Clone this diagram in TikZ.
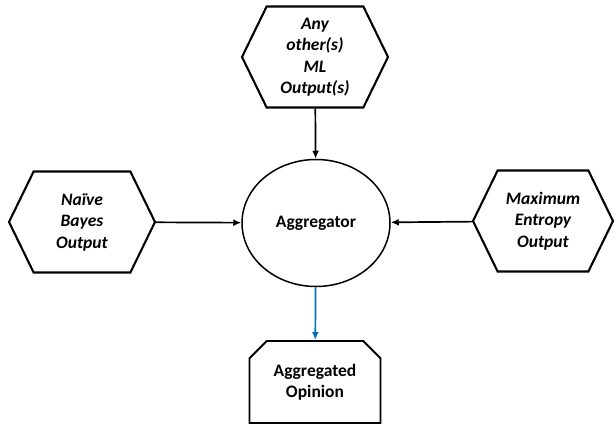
\documentclass[tikz,border=0pt]{standalone}
\usepackage{fontspec}
\setmainfont{Carlito}
\usetikzlibrary{shapes.symbols,shapes.misc,shapes.geometric,arrows.meta}
\definecolor{outblue}{RGB}{0,112,192}

\begin{document}
\begin{tikzpicture}[x=1pt, y=1pt,
  hexbox/.style={signal, signal to=west and east, signal pointer angle=128, draw, line width=2.1pt,
    minimum width=146pt, minimum height=101pt, inner sep=2pt, align=center, font=\fontsize{17.5}{21.5}\selectfont\bfseries\itshape},
  aggnode/.style={ellipse, draw, line width=1.5pt, minimum width=148pt, minimum height=127pt, font=\fontsize{17.5}{21}\selectfont\bfseries},
  outbox/.style={chamfered rectangle, chamfered rectangle corners={north west,north east}, chamfered rectangle xsep=14pt,
    draw, line width=1.9pt, minimum width=131pt, minimum height=82pt, align=center, font=\fontsize{17.5}{20.5}\selectfont\bfseries},
  feed/.style={-{Latex[length=8pt,width=7pt]}, line width=1.7pt}]
  \useasboundingbox (0,0) rectangle (615,426);
  \node[aggnode] (agg) at (316,203) {Aggregator};
  \node[hexbox] (other) at (315,369) {Any\\other(s)\\ML\\Output(s)};
  \node[hexbox] (nb) at (82,204) {Naïve\\Bayes\\Output};
  \node[hexbox, minimum width=140pt] (maxent) at (543,205) {Maximum\\Entropy\\Output};
  \node[outbox] (opinion) at (315,44) {Aggregated\\Opinion};
  \draw[feed] (other) -- (agg);
  \draw[feed] (nb) -- (agg);
  \draw[feed] (maxent) -- (agg);
  \draw[feed, outblue] (agg) -- (opinion);
\end{tikzpicture}
\end{document}
